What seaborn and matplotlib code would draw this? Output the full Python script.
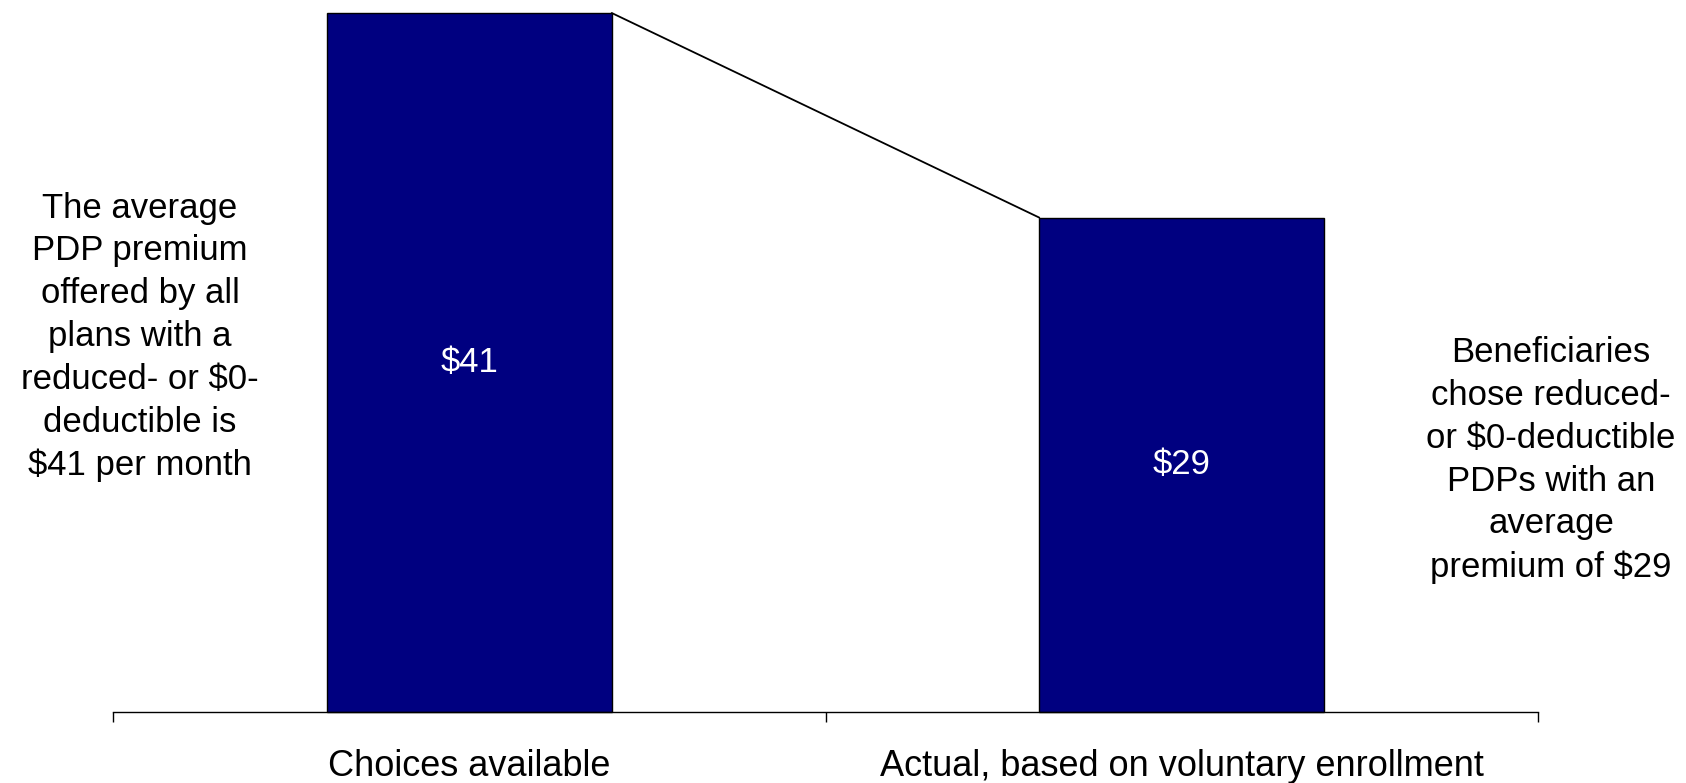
import matplotlib
matplotlib.use("Agg")
import matplotlib.pyplot as plt
import seaborn as sns
import pandas as pd

categories = ["Choices available", "Actual, based on voluntary enrollment"]
premiums = [41, 29]
value_labels = ["$41", "$29"]
left_note = "The average\nPDP premium\noffered by all\nplans with a\nreduced- or $0-\ndeductible is\n$41 per month"
right_note = "Beneficiaries\nchose reduced-\nor $0-deductible\nPDPs with an\naverage\npremium of $29"

sns.set_theme(style="white")
plt.rcParams['font.family'] = ['Liberation Sans', 'DejaVu Sans']
plt.rcParams['text.color'] = 'black'
plt.rcParams['xtick.color'] = 'black'

W, H = 1686, 783
fig = plt.figure(figsize=(W / 100, H / 100), dpi=100)
ax_left, ax_right, ax_bottom, ax_top = 113, 1538, 712, 13
ax = fig.add_axes([ax_left / W, 1 - ax_bottom / H, (ax_right - ax_left) / W, (ax_bottom - ax_top) / H])

df = pd.DataFrame({"cat": categories, "val": premiums})
sns.barplot(data=df, x="cat", y="val", color="#000080", width=0.4,
            edgecolor="black", linewidth=1, saturation=1, ax=ax)
for p in ax.patches:
    p.set_clip_on(False)

ax.set_xlim(-0.5, 1.5)
ax.set_ylim(0, max(premiums))

# connector line between bar tops
ax.plot([0 + 0.2, 1 - 0.2], premiums, color="black", lw=1.3, clip_on=False, zorder=3)

# value labels
for i, (v, lab) in enumerate(zip(premiums, value_labels)):
    ax.text(i, v / 2, lab, ha="center", va="center", color="white", fontsize=25)

# spines / ticks
for s in ["top", "right", "left"]:
    ax.spines[s].set_visible(False)
ax.spines["bottom"].set_color("black")
ax.spines["bottom"].set_linewidth(1)
ax.set_yticks([])
ax.set_xticks([0, 1])
ax.set_xticklabels(categories, fontsize=26, color="black")
ax.tick_params(axis="x", which="major", length=0, pad=27)
ax.set_xticks([-0.5, 0.5, 1.5], minor=True)
ax.tick_params(axis="x", which="minor", length=7.5, width=1, color="black", direction="out", bottom=True)
ax.set_xlabel("")
ax.set_ylabel("")

fig.text(140 / W, 1 - 337 / H, left_note, ha="center", va="center", fontsize=25,
         linespacing=1.38, color="black")
fig.text(1551 / W, 1 - 460 / H, right_note, ha="center", va="center", fontsize=25,
         linespacing=1.38, color="black")

fig.savefig("out.png", dpi=100)
